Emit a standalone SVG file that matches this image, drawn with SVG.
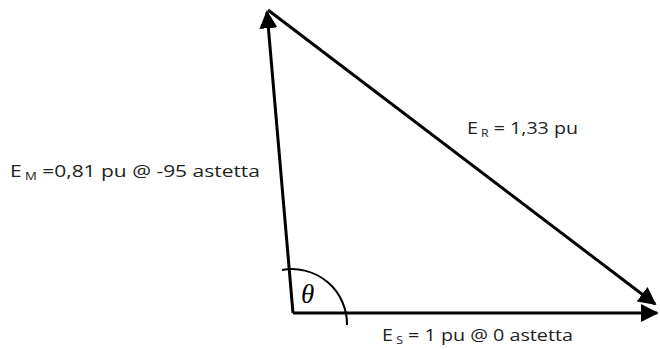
<svg xmlns="http://www.w3.org/2000/svg" width="660" height="349" viewBox="0 0 660 349">
<defs>
<marker id="ah" viewBox="0 0 10 10" refX="9" refY="5" markerWidth="6" markerHeight="6" orient="auto" markerUnits="strokeWidth">
<path d="M0,0 L10,5 L0,10 z" fill="#000"/>
</marker>
</defs>
<style>
.ln{stroke:#000;stroke-width:3;fill:none}
.t{font-family:"Open Sans","Liberation Sans",sans-serif;font-size:16px;fill:#222}
.s{font-size:10px}
</style>
<rect width="660" height="349" fill="#fff"/>
<g id="connectors">
<line class="ln" x1="293" y1="313" x2="657" y2="313" marker-end="url(#ah)"/>
<line class="ln" x1="293" y1="313" x2="267" y2="12" marker-end="url(#ah)"/>
<line class="ln" x1="268" y1="10" x2="655" y2="304" marker-end="url(#ah)"/>
<path class="ln" style="stroke-width:2" d="M282,270 A55,55 0 0 1 347,325"/>
</g>
<g id="theta"><text x="301" y="303" font-family="Liberation Serif,serif" font-style="italic" font-size="27">θ</text></g>
<g id="label-em"><text class="t" x="10" y="177" textLength="250" lengthAdjust="spacingAndGlyphs">E<tspan class="s" dy="3"> M</tspan><tspan dy="-3"> =0,81 pu @ -95 astetta</tspan></text></g>
<g id="label-er"><text class="t" x="467" y="134" textLength="111" lengthAdjust="spacingAndGlyphs">E<tspan class="s" dy="3"> R</tspan><tspan dy="-3"> = 1,33 pu</tspan></text></g>
<g id="label-es"><text class="t" x="382" y="341" textLength="191" lengthAdjust="spacingAndGlyphs">E<tspan class="s" dy="3"> S</tspan><tspan dy="-3"> = 1 pu @ 0 astetta</tspan></text></g>
</svg>
